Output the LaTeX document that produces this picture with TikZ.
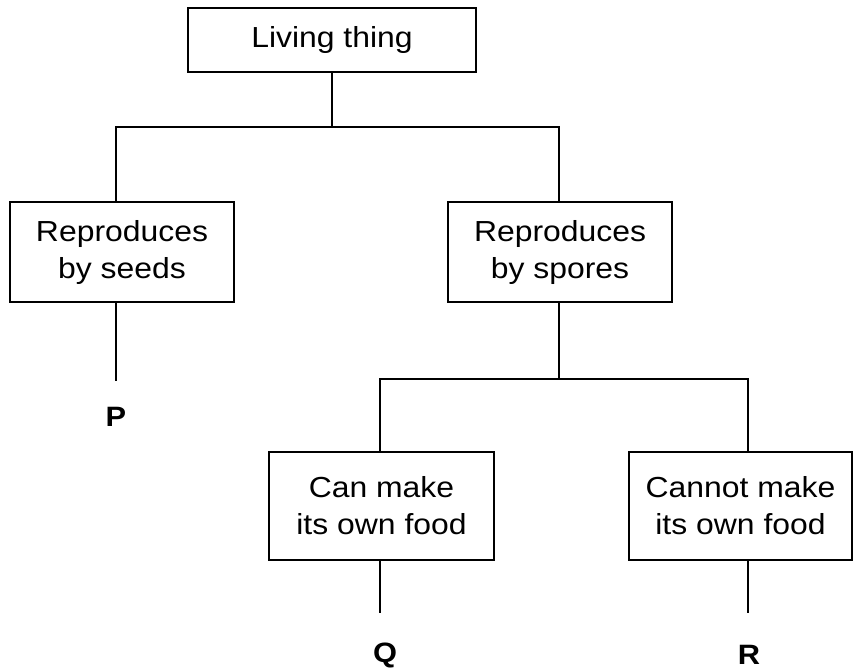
\documentclass[tikz,border=0pt]{standalone}
\usepackage{fontspec}
\setmainfont[FakeStretch=1.1]{Liberation Sans}

\begin{document}
\begin{tikzpicture}[x=1pt,y=-1pt,line width=1.2pt,
    box/.style={draw,align=center,inner sep=0pt,font=\fontsize{29}{37}\selectfont},
    leaf/.style={inner sep=0pt,font=\fontsize{28}{30}\selectfont\bfseries}]
    \useasboundingbox (0,0) rectangle (853,670);

    \node[box,minimum width=288pt,minimum height=64pt] (living) at (332,40) {Living thing};
    \node[box,minimum width=224pt,minimum height=100pt] (seeds) at (122,252) {Reproduces\\by seeds};
    \node[box,minimum width=224pt,minimum height=100pt] (spores) at (560,252) {Reproduces\\by spores};
    \node[box,minimum width=225pt,minimum height=108pt] (canmake) at (381.5,506) {Can make\\its own food};
    \node[box,minimum width=223pt,minimum height=108pt] (cannot) at (740.5,506) {Cannot make\\its own food};
    \node[leaf] (P) at (116,417) {P};
    \node[leaf] (Q) at (385,655) {Q};
    \node[leaf] (R) at (749,655) {R};

    \coordinate (top) at (332,127);
    \coordinate (sl) at (116,127);
    \coordinate (sr) at (559,127);
    \coordinate (pend) at (116,381);
    \coordinate (ql) at (380,379);
    \coordinate (qr) at (748,379);
    \coordinate (qend) at (380,613);
    \coordinate (rend) at (748,613);

    \draw (living) -- (top);
    \draw (seeds.north -| sl) -- (sl) -- (sr) -- (spores.north -| sr);
    \draw (seeds.south -| pend) -- (pend);
    \draw (spores.south -| sr) -- (sr |- ql);
    \draw (canmake.north -| ql) -- (ql) -- (qr) -- (cannot.north -| qr);
    \draw (canmake.south -| qend) -- (qend);
    \draw (cannot.south -| rend) -- (rend);
\end{tikzpicture}
\end{document}
